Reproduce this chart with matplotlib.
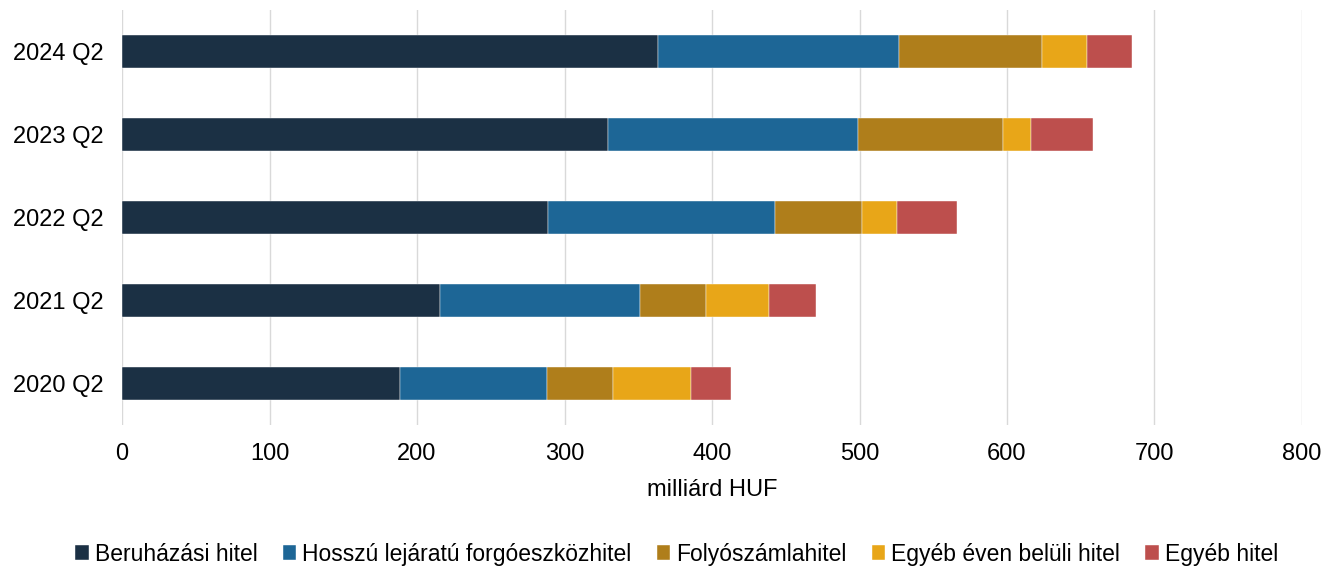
import matplotlib.pyplot as plt
import numpy as np

plt.rcParams['font.family'] = ['Liberation Sans', 'DejaVu Sans']

periods = ['2020 Q2', '2021 Q2', '2022 Q2', '2023 Q2', '2024 Q2']
beruhazasi = [188.7, 215.8, 288.8, 329.3, 363.2]
hosszu = [99.5, 135.1, 153.6, 169.5, 163.4]
folyoszamla = [44.4, 44.8, 59.1, 98.2, 97.0]
egyeb_even_belul = [53.4, 43.0, 24.2, 19.3, 30.5]
egyeb = [27.1, 31.9, 40.5, 41.7, 30.8]

series = [
    ('Beruházási hitel', beruhazasi, '#1B3044'),
    ('Hosszú lejáratú forgóeszközhitel', hosszu, '#1D6696'),
    ('Folyószámlahitel', folyoszamla, '#AF7E1B'),
    ('Egyéb éven belüli hitel', egyeb_even_belul, '#E8A618'),
    ('Egyéb hitel', egyeb, '#BD4F4D'),
]

fig = plt.figure(figsize=(13.37, 5.68), dpi=100)
ax = fig.add_axes([0.0913, 0.252, 0.8825, 0.73])

y = np.arange(len(periods))
left = np.zeros(len(periods))
for name, vals, col in series:
    ax.barh(y, vals, left=left, height=0.4, color=col, label=name,
            edgecolor='white', linewidth=0.3)
    left += np.array(vals)

ax.set_xlim(0, 800)
ax.set_ylim(-0.5, 4.5)
ax.set_xticks(np.arange(0, 801, 100))
ax.set_yticks(y)
ax.set_yticklabels(periods)
ax.tick_params(axis='both', length=0, labelsize=17)
ax.tick_params(axis='x', pad=13)
ax.tick_params(axis='y', pad=13)
ax.grid(axis='x', color='#D9D9D9', linewidth=1)
ax.set_axisbelow(True)
for s in ax.spines.values():
    s.set_visible(False)
ax.set_xlabel('milliárd HUF', fontsize=17, labelpad=10)

fig.legend(loc='lower center', bbox_to_anchor=(0.506, -0.032), ncol=5,
           frameon=False, fontsize=16.5, handlelength=0.6, handleheight=0.6,
           handletextpad=0.25, columnspacing=1.1)

fig.savefig('out.png', dpi=100)
